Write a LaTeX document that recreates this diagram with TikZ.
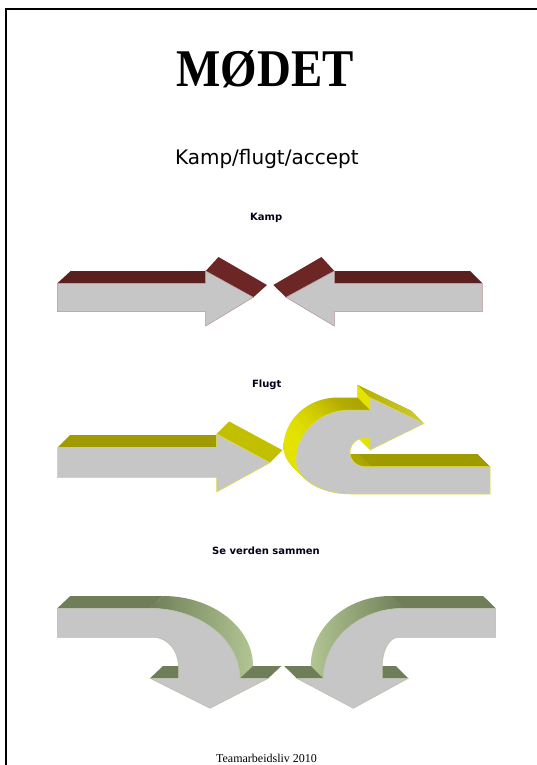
\documentclass[tikz,border=0pt]{standalone}
\usepackage{fontspec}
\setmainfont{Liberation Serif}
\newfontfamily\dejavu{DejaVu Sans}
\definecolor{grayface}{HTML}{C6C6C6}
\definecolor{kampshaft}{HTML}{5A1F1F}
\definecolor{kamphead}{HTML}{6C2626}
\definecolor{kampline}{HTML}{B89090}
\definecolor{flshaft}{HTML}{9E9A00}
\definecolor{flmid}{HTML}{B4AE00}
\definecolor{flhead}{HTML}{C2BE00}
\definecolor{flbright}{HTML}{E4E200}
\definecolor{flline}{HTML}{E2DE3A}
\definecolor{samdark}{HTML}{6F7E59}
\definecolor{samlight}{HTML}{B2C592}
\definecolor{samline}{HTML}{B4C0A4}
\pgfdeclarehorizontalshading{uturnshade}{100bp}{color(0bp)=(flbright); color(26bp)=(flbright); color(38bp)=(flmid); color(50bp)=(flshaft); color(100bp)=(flshaft)}
\tikzset{
  frontface/.style={fill=grayface, draw=#1, line width=0.5pt, line join=miter},
  label/.style={font=\dejavu\bfseries\fontsize{10}{10}\selectfont, anchor=base, inner sep=0pt, text=black!90!blue},
  uturnp/.style={insert path={(490,494) -- (350,494) .. controls (320.2,494) and (296,478.8) .. (296,460) .. controls (296,432.4) and (320.2,410) .. (350,410) -- (370,410) -- (370,397.5) -- (424,423.5) -- (370,450) -- (370,438) -- (365,438) .. controls (356.7,438) and (350,444.4) .. (350,452.3) .. controls (350,460.2) and (356.7,466.7) .. (365,466.7) -- (490,466.7) -- cycle}}
}
\begin{document}
\begin{tikzpicture}[x=1pt,y=-1pt]
\useasboundingbox (0,0) rectangle (537,765);
\fill[white] (0,0) rectangle (537,765);
% page frame
\draw[line width=2pt] (6,766) -- (6,9.5) -- (538,9.5);

% texts
\node[font=\bfseries\fontsize{53}{53}\selectfont, anchor=base, xscale=0.885, inner sep=0pt] (title) at (265,87) {MØDET};
\node[font=\dejavu\fontsize{20}{20}\selectfont, anchor=base, inner sep=0pt] (sub) at (266.8,164) {Kamp/flugt/accept};
\node[label] (lkamp) at (266.2,220.7) {Kamp};
\node[label] (lflugt) at (266.7,387.3) {Flugt};
\node[label] (lsammen) at (266,554.5) {Se verden sammen};
\node[font=\fontsize{12}{12}\selectfont, anchor=base, inner sep=0pt] (foot) at (266.5,762.5) {Teamarbeidsliv 2010};

% ---------- Kamp ----------
\fill[kampshaft] (57.3,283.3) -- (70.7,271) -- (205.7,271) -- (205.7,283.3) -- cycle;
\fill[kamphead] (205.7,271) -- (218.5,257) -- (267,285) -- (253.3,297.3) -- cycle;
\path[frontface=kampline] (57.3,283.3) -- (205.7,283.3) -- (205.7,271) -- (253.3,297.3) -- (205.7,326) -- (205.7,311.7) -- (57.3,311.7) -- cycle;

\fill[kampshaft] (482.3,283.3) -- (470,271) -- (334.3,271) -- (334.3,283.3) -- cycle;
\fill[kamphead] (334.3,271) -- (321.5,257) -- (273.3,285) -- (286,297.3) -- cycle;
\path[frontface=kampline] (482.3,283.3) -- (334.3,283.3) -- (334.3,271) -- (286,297.3) -- (334.3,326) -- (334.3,311.7) -- (482.3,311.7) -- cycle;

% ---------- Flugt ----------
\fill[flshaft] (57.3,447.7) -- (69.8,435.2) -- (216.7,435.2) -- (216.7,447.7) -- cycle;
\fill[flhead] (216.7,434) -- (229.2,421.5) -- (282.5,450.2) -- (270,462.7) -- cycle;
\path[frontface=flline] (57.3,447.7) -- (216.7,447.7) -- (216.7,434) -- (270,462.7) -- (216.7,492) -- (216.7,477.7) -- (57.3,477.7) -- cycle;

% U-turn arrow: extrusion by stacking
\foreach \k in {12.5,12,...,0.5} {
  \shade[shift={(-\k,-\k)}, shading=uturnshade, uturnp];
}
\fill[flbright] (370,397.5) -- (357.5,385) -- (357.5,397.5) -- (370,410) -- cycle;
\fill[flbright] (370,438) -- (370,450) -- (357.5,437.5) -- (357.5,425.5) -- cycle;
\shade[left color=flmid, right color=flhead!80!white] (370,397.5) -- (357.5,385) -- (411.5,411) -- (424,423.5) -- cycle;
\fill[flshaft] (372,466.7) -- (359.5,454.2) -- (477.5,454.2) -- (490,466.7) -- cycle;
\path[frontface=flline, uturnp];

% ---------- Se verden sammen ----------
% left arrow
\fill[samdark] (57.3,608.3) -- (70.3,596) -- (163,596) -- (150,608.3) -- cycle;
\shade[left color=samdark, right color=samlight] (150,608.3) .. controls (199.7,608.3) and (240,639.7) .. (240,678.3) -- (253,666) .. controls (253,627.4) and (212.7,596) .. (163,596) -- cycle;
\fill[samdark] (150,678.3) -- (163,666) -- (191.3,666) -- (178.3,678.3) -- cycle;
\fill[samdark] (240,678.3) -- (253,666) -- (281.3,666) -- (268.3,678.3) -- cycle;
\path[frontface=samline] (57.3,608.3) -- (150,608.3) .. controls (199.7,608.3) and (240,639.7) .. (240,678.3) -- (268.3,678.3) -- (210,708.3) -- (150,678.3) -- (178.3,678.3) -- (178.3,666) .. controls (178.3,650.2) and (167.1,637.3) .. (153.3,637.3) -- (57.3,637.3) -- cycle;

% right arrow
\fill[samdark] (495.7,608.3) -- (483.2,596) -- (390.5,596) -- (403,608.3) -- cycle;
\shade[left color=samlight, right color=samdark] (403,608.3) .. controls (359,608.3) and (323.3,639.7) .. (323.3,678.3) -- (310.8,666) .. controls (310.8,627.4) and (346.5,596) .. (390.5,596) -- cycle;
\fill[samdark] (296.7,678.3) -- (284.2,666) -- (310.8,666) -- (323.3,678.3) -- cycle;
\fill[samdark] (408.3,678.3) -- (395.8,666) -- (369.8,666) -- (382.3,678.3) -- cycle;
\path[frontface=samline] (495.7,608.3) -- (403,608.3) .. controls (359,608.3) and (323.3,639.7) .. (323.3,678.3) -- (296.7,678.3) -- (353.3,708.3) -- (408.3,678.3) -- (382.3,678.3) -- (382.3,666) .. controls (382.3,650.2) and (389.5,637.3) .. (398.3,637.3) -- (495.7,637.3) -- cycle;
\end{tikzpicture}
\end{document}
